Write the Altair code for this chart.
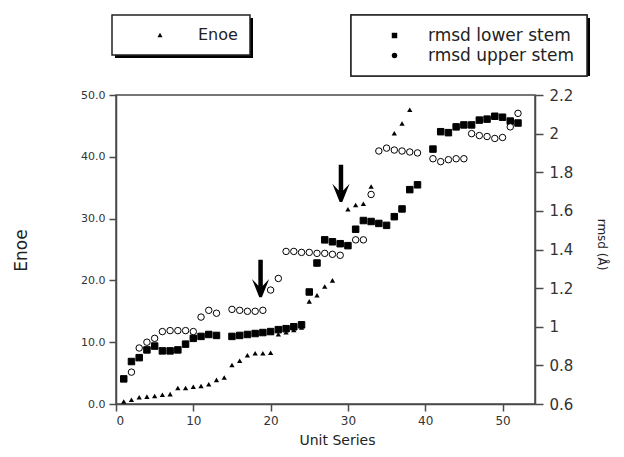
import altair as alt
import pandas as pd

# ---- data ----
enoe_units = [1, 2, 3, 4, 5, 6, 7, 8, 9, 10, 11, 12, 13, 14, 15, 16, 17, 18, 19, 20,
              21, 22, 23, 24, 25, 26, 27, 28, 30, 31, 32, 33, 34, 36, 37, 38]
enoe_values = [0.4, 0.7, 1.1, 1.2, 1.3, 1.5, 1.6, 2.6, 2.6, 2.8, 2.9, 3.2, 3.9, 4.3, 6.3, 7.0, 7.9, 8.2, 8.2, 8.3,
               11.3, 11.6, 12.0, 12.4, 16.6, 17.6, 19.0, 20.0, 31.5, 32.2, 32.4, 35.2, 41.1, 43.8, 45.4, 47.6]

lower_units = [1, 2, 3, 4, 5, 6, 7, 8, 9, 10, 11, 12, 13, 15, 16, 17, 18, 19, 20, 21, 22, 23, 24,
               25, 26, 27, 28, 29, 30, 31, 32, 33, 34, 35, 36, 37, 38, 39, 41, 42, 43, 44, 45, 46,
               47, 48, 49, 50, 51, 52]
lower_values = [0.73, 0.82, 0.84, 0.88, 0.90, 0.875, 0.875, 0.88, 0.91, 0.94, 0.95, 0.96, 0.955,
                0.95, 0.955, 0.96, 0.965, 0.97, 0.975, 0.985, 0.99, 1.0, 1.01,
                1.18, 1.33, 1.45, 1.44, 1.43, 1.42, 1.505, 1.55, 1.545, 1.535, 1.525, 1.57, 1.61,
                1.71, 1.735, 1.92, 2.01, 2.005, 2.035, 2.045, 2.045, 2.07, 2.075, 2.09, 2.085,
                2.065, 2.055]

upper_units = [2, 3, 4, 5, 6, 7, 8, 9, 10, 11, 12, 13, 15, 16, 17, 18, 19, 20, 21,
               22, 23, 24, 25, 26, 27, 28, 29, 31, 32, 33, 34, 35, 36, 37, 38, 39,
               41, 42, 43, 44, 45, 46, 47, 48, 49, 50, 51, 52]
upper_values = [0.765, 0.89, 0.92, 0.94, 0.975, 0.98, 0.98, 0.98, 0.975, 1.05, 1.085, 1.07,
                1.09, 1.085, 1.08, 1.08, 1.085, 1.19, 1.25,
                1.39, 1.39, 1.385, 1.385, 1.38, 1.38, 1.375, 1.37, 1.45, 1.45, 1.685,
                1.91, 1.925, 1.915, 1.91, 1.905, 1.90,
                1.87, 1.855, 1.865, 1.87, 1.87, 2.0, 1.99, 1.985, 1.975, 1.98, 2.035, 2.105]

arrow_units = [18.7, 29.1]
arrow_enoe = [20.3, 35.7]

x_ticks = [0, 10, 20, 30, 40, 50]
enoe_ticks = [0, 10, 20, 30, 40, 50]
rmsd_ticks = [0.6, 0.8, 1.0, 1.2, 1.4, 1.6, 1.8, 2.0, 2.2]

FONT = "DejaVu Sans"
AX = "#4a4a4a"

enoe_df = pd.DataFrame({"unit": enoe_units, "value": enoe_values, "series": "Enoe"})
rmsd_df = pd.concat([
    pd.DataFrame({"unit": lower_units, "value": lower_values, "series": "rmsd lower stem"}),
    pd.DataFrame({"unit": upper_units, "value": upper_values, "series": "rmsd upper stem"}),
], ignore_index=True)
arrow_df = pd.DataFrame({"unit": arrow_units, "value": arrow_enoe})

x_enc = alt.X(
    "unit:Q",
    scale=alt.Scale(domain=[0, 54.2], nice=False, zero=False),
    axis=alt.Axis(values=x_ticks, format="d", title="Unit Series", titleFontSize=14,
                  titleX=221, titleY=40, titleBaseline="alphabetic", titleAlign="center",
                  labelFontSize=12, tickSize=7, labelPadding=4),
)

enoe_layer = alt.Chart(enoe_df).mark_point(filled=True, color="black", size=28, opacity=1).encode(
    x=x_enc,
    y=alt.Y("value:Q", scale=alt.Scale(domain=[0, 50], nice=False),
            axis=alt.Axis(orient="left", values=enoe_ticks, format=".1f", title="Enoe",
                          titleFontSize=17, titleX=-95, titleY=155, titleAngle=-90,
                          titleBaseline="middle", titleAlign="center",
                          labelFontSize=11, tickSize=7, labelPadding=4)),
    shape=alt.Shape("series:N", scale=alt.Scale(domain=["Enoe"], range=["triangle-up"]),
                    legend=alt.Legend(title=None, orient="none", legendX=-4, legendY=-80,
                                      padding=12, symbolOffset=28, labelOffset=30,
                                      symbolSize=25, symbolFillColor="black",
                                      labelFontSize=16, labelFont=FONT, labelColor="#222",
                                      strokeColor="#222", fillColor="white")),
)

ARROW = ("M-0.12,-1 L0.12,-1 L0.12,0.38 L0.46,0.02 L0.07,1 L-0.07,1 "
         "L-0.46,0.02 L-0.12,0.38 Z")
arrow_layer = alt.Chart(arrow_df).mark_point(shape=ARROW, filled=True, color="black",
                                             size=1400, opacity=1).encode(
    x=alt.X("unit:Q"),
    y=alt.Y("value:Q"),
)

left = alt.layer(enoe_layer, arrow_layer)

series_dom = ["rmsd lower stem", "rmsd upper stem"]
leg2 = alt.Legend(title=None, orient="none", legendX=235, legendY=-80, padding=12,
                  symbolOffset=23, labelOffset=25, symbolSize=30, rowPadding=2,
                  symbolStrokeColor="black", symbolStrokeWidth=1,
                  labelFontSize=17, labelFont=FONT, labelColor="#222",
                  strokeColor="#222", fillColor="white")

rmsd_layer = alt.Chart(rmsd_df).mark_point(filled=True, stroke="black", strokeWidth=1,
                                           size=42, opacity=1).encode(
    x=x_enc,
    y=alt.Y("value:Q", scale=alt.Scale(domain=[0.6, 2.2], nice=False, zero=False),
            axis=alt.Axis(orient="right", values=rmsd_ticks, format="~g", title="rmsd (Å)",
                          titleFontSize=12, titleX=66, titleY=149, titleAngle=90,
                          titleBaseline="middle", titleAlign="center",
                          labelFontSize=15, tickSize=8, labelPadding=6)),
    shape=alt.Shape("series:N", scale=alt.Scale(domain=series_dom, range=["square", "circle"]),
                    legend=leg2),
    fill=alt.Fill("series:N", scale=alt.Scale(domain=series_dom, range=["black", "white"]),
                  legend=leg2),
)

# drop shadows behind the two legend boxes
shadow1 = alt.Chart(pd.DataFrame({"k": [0]})).mark_rect(color="black").encode(
    x=alt.value(-1), x2=alt.value(137), y=alt.value(-77), y2=alt.value(-37))
shadow2 = alt.Chart(pd.DataFrame({"k": [0]})).mark_rect(color="black").encode(
    x=alt.value(238), x2=alt.value(474), y=alt.value(-77), y2=alt.value(-19))

chart = alt.layer(shadow1, shadow2, left, rmsd_layer).resolve_scale(
    y="independent", shape="independent"
).properties(
    width=419, height=309,
    autosize=alt.AutoSizeParams(type="none"),
    padding={"left": 108, "top": 87, "right": 81, "bottom": 45},
).configure_view(
    stroke=AX, strokeWidth=1.5
).configure_axis(
    grid=False, domainColor=AX, tickColor=AX, domainWidth=1.5, tickWidth=1.5,
    labelColor="#333", titleColor="#222", labelFont=FONT, titleFont=FONT,
    titleFontWeight="normal"
).configure_legend(
    strokeWidth=1.5
)

chart.save("out.html", embed_options={"renderer": "svg", "actions": False})
